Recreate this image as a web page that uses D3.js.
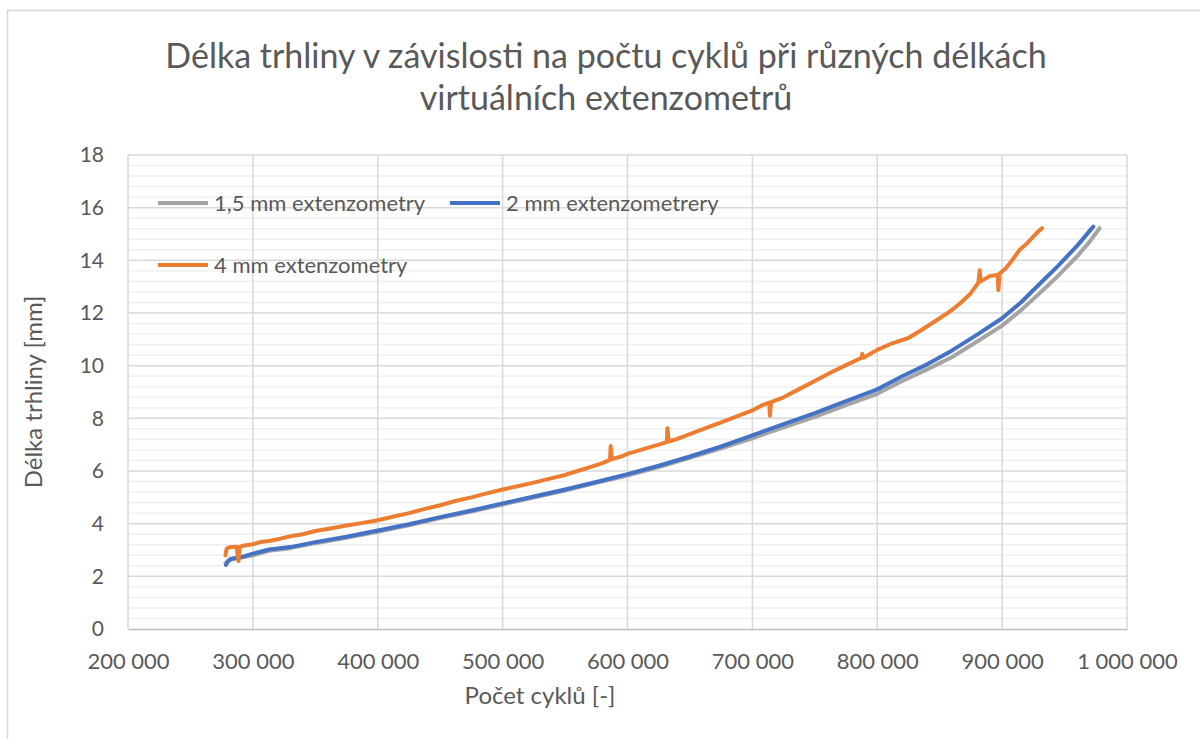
<!DOCTYPE html>
<html lang="cs">
<head>
<meta charset="utf-8">
<title>Délka trhliny</title>
<script src="https://d3js.org/d3.v7.min.js"></script>
<style>
  html, body { margin: 0; padding: 0; background: #fff; overflow: hidden; }
  svg { display: block; }
  text { font-family: Lato, "Open Sans", sans-serif; fill: #595959; }
  .grid-major line { stroke: #d9d9d9; stroke-width: 1.5px; }
  .grid-minor line { stroke: #f0f0f0; stroke-width: 1.5px; }
  .series { fill: none; stroke-width: 4px; stroke-linejoin: round; stroke-linecap: round; }
</style>
</head>
<body>
<script>
// data: cycles -> crack length [mm]
var gray_x = [278000, 281000, 285000, 290000, 300000, 313000, 330000, 350000, 375000, 400000,
              425000, 450000, 475000, 500000, 525000, 550000, 575000, 600000, 625000, 650000,
              675000, 700000, 725000, 750000, 775000, 800000, 820000, 840000, 860000, 880000,
              900000, 915000, 930000, 945000, 960000, 970000, 978000];
var gray_y = [2.50, 2.60, 2.66, 2.70, 2.80, 2.97, 3.07, 3.26, 3.46, 3.69,
              3.94, 4.21, 4.46, 4.73, 4.99, 5.26, 5.55, 5.83, 6.15, 6.50,
              6.86, 7.24, 7.66, 8.06, 8.50, 8.93, 9.42, 9.86, 10.33, 10.92,
              11.52, 12.10, 12.75, 13.42, 14.15, 14.70, 15.22];

var blue_x = [278500, 280000, 282000, 286000, 290000, 300000, 313000, 330000, 350000, 375000,
              400000, 425000, 450000, 475000, 500000, 525000, 550000, 575000, 600000, 625000,
              650000, 675000, 700000, 725000, 750000, 775000, 800000, 820000, 840000, 860000,
              880000, 900000, 915000, 930000, 945000, 960000, 973000];
var blue_y = [2.43, 2.58, 2.66, 2.70, 2.72, 2.86, 3.02, 3.11, 3.30, 3.50,
              3.74, 3.98, 4.25, 4.50, 4.77, 5.03, 5.30, 5.58, 5.88, 6.20,
              6.55, 6.93, 7.35, 7.78, 8.20, 8.65, 9.10, 9.60, 10.05, 10.58,
              11.18, 11.80, 12.40, 13.10, 13.80, 14.55, 15.28];

var orange_x = [278000, 279000, 281000, 287000, 288500, 289500, 292000, 300000, 306000, 313000,
                322000, 330000, 340000, 350000, 362000, 375000, 388000, 400000, 412000, 425000,
                437000, 450000, 462000, 475000, 488000, 500000, 512000, 525000, 537000, 550000,
                560000, 570000, 580000, 586000, 586500, 587500, 595000, 600000, 612000, 625000,
                631500, 632000, 633000, 640000, 650000, 662000, 675000, 688000, 700000, 707000,
                713500, 714000, 715000, 725000, 737000, 750000, 762000, 775000, 787500, 788000,
                789000, 800000, 812000, 825000, 837000, 850000, 858000, 866000, 874000, 881000,
                882000, 883000, 890000, 896500, 897000, 898000, 903000, 908000, 914000, 919000,
                925000, 929000, 932000];
var orange_y = [2.80, 3.05, 3.10, 3.12, 2.58, 3.12, 3.16, 3.22, 3.30, 3.34,
                3.43, 3.52, 3.60, 3.72, 3.82, 3.93, 4.03, 4.13, 4.26, 4.40,
                4.55, 4.70, 4.86, 5.00, 5.16, 5.30, 5.42, 5.56, 5.70, 5.85,
                6.00, 6.15, 6.30, 6.42, 6.95, 6.45, 6.55, 6.65, 6.82, 7.00,
                7.10, 7.62, 7.12, 7.22, 7.40, 7.62, 7.85, 8.08, 8.30, 8.48,
                8.60, 8.10, 8.62, 8.80, 9.10, 9.42, 9.72, 10.02, 10.30, 10.45,
                10.30, 10.60, 10.85, 11.05, 11.40, 11.80, 12.05, 12.35, 12.70, 13.15,
                13.62, 13.20, 13.40, 13.45, 12.87, 13.50, 13.70, 14.00, 14.40, 14.60,
                14.90, 15.10, 15.22];

var series_names = ["1,5 mm extenzometry", "2 mm extenzometrery", "4 mm extenzometry"];
var series_colors = ["#a5a5a5", "#4472c4", "#ed7d31"];

var x_ticks = [200000, 300000, 400000, 500000, 600000, 700000, 800000, 900000, 1000000];
var y_ticks = [0, 2, 4, 6, 8, 10, 12, 14, 16, 18];

var title_lines = ["Délka trhliny v závislosti na počtu cyklů při různých délkách",
                   "virtuálních extenzometrů"];
var x_title = "Počet cyklů [-]";
var y_title = "Délka trhliny [mm]";

var w = 1200, h = 739;
var margin = {top: 155, right: 73, bottom: 110, left: 128};
var innerWidth = w - margin.left - margin.right;
var innerHeight = h - margin.top - margin.bottom;

var svg = d3.select("body").append("svg")
    .attr("width", w)
    .attr("height", h);

// chart border: only left and top edges are inside the picture
svg.append("path")
   .attr("d", `M7.5,${h} V10.5 H${w}`)
   .attr("fill", "none")
   .attr("stroke", "#d9d9d9")
   .attr("stroke-width", 1.5);

var xScale = d3.scaleLinear().domain([200000, 1000000]).range([0, innerWidth]);
var yScale = d3.scaleLinear().domain([0, 18]).range([innerHeight, 0]);

var g = svg.append("g").attr("transform", `translate(${margin.left}, ${margin.top})`);

// minor gridlines every 0.4
g.append("g").attr("class", "grid-minor")
 .selectAll("line")
 .data(d3.range(0, 18, 0.4).filter(v => Math.abs(v / 2 - Math.round(v / 2)) > 0.01))
 .enter().append("line")
 .attr("x1", 0).attr("x2", innerWidth)
 .attr("y1", d => yScale(d)).attr("y2", d => yScale(d));

// major gridlines
g.append("g").attr("class", "grid-major")
 .selectAll("line").data(y_ticks.slice(1))
 .enter().append("line")
 .attr("x1", 0).attr("x2", innerWidth)
 .attr("y1", d => yScale(d)).attr("y2", d => yScale(d));

g.append("g").attr("class", "grid-major")
 .selectAll("line").data(x_ticks)
 .enter().append("line")
 .attr("x1", d => xScale(d)).attr("x2", d => xScale(d))
 .attr("y1", 0).attr("y2", innerHeight);

// axes
var loc = d3.formatLocale({decimal: ",", thousands: " ", grouping: [3], currency: ["", ""]});
var fmt = loc.format(",d");

var xAxis = d3.axisBottom(xScale).tickValues(x_ticks).tickFormat(fmt).tickSize(0).tickPadding(24);
var gx = g.append("g").attr("transform", `translate(0, ${innerHeight})`).call(xAxis);
gx.select(".domain").attr("stroke", "#bfbfbf").attr("stroke-width", 1.5);
gx.selectAll("text").attr("font-size", "22px").style("font-family", "Lato, sans-serif").attr("fill", "#595959");

var yAxis = d3.axisLeft(yScale).tickValues(y_ticks).tickSize(0).tickPadding(24);
var gy = g.append("g").call(yAxis);
gy.select(".domain").remove();
gy.selectAll("text").attr("font-size", "21px").style("font-family", "Lato, sans-serif").attr("fill", "#595959");

// series
var lineGen = d3.line()
    .x(d => xScale(d[0]))
    .y(d => yScale(d[1]));

var all_series = [d3.zip(gray_x, gray_y), d3.zip(blue_x, blue_y), d3.zip(orange_x, orange_y)];
all_series.forEach(function(s, i) {
  g.append("path")
   .datum(s)
   .attr("class", "series")
   .attr("stroke", series_colors[i])
   .attr("stroke-width", i == 2 ? 5 : 4)
   .attr("d", lineGen);
});

// legend
var legendPos = [[158, 203], [450, 203], [158, 265]];
series_names.forEach(function(name, i) {
  var lg = svg.append("g").attr("transform", `translate(${legendPos[i][0]}, ${legendPos[i][1]})`);
  lg.append("line").attr("x1", 0).attr("x2", 50).attr("y1", 0).attr("y2", 0)
    .attr("stroke", series_colors[i]).attr("stroke-width", 4);
  lg.append("text").attr("x", 56).attr("y", 0).attr("dy", "0.35em")
    .attr("font-size", "22px").text(name);
});

// titles
svg.append("g").selectAll("text").data(title_lines).enter().append("text")
   .attr("x", 606).attr("y", (d, i) => 68 + i * 42)
   .attr("text-anchor", "middle")
   .attr("font-size", "34px")
   .text(d => d);

svg.append("text")
   .attr("x", 540).attr("y", 704)
   .attr("text-anchor", "middle")
   .attr("font-size", "24px")
   .text(x_title);

svg.append("text")
   .attr("transform", "translate(42, 392) rotate(-90)")
   .attr("text-anchor", "middle")
   .attr("font-size", "24px")
   .text(y_title);
</script>
</body>
</html>
